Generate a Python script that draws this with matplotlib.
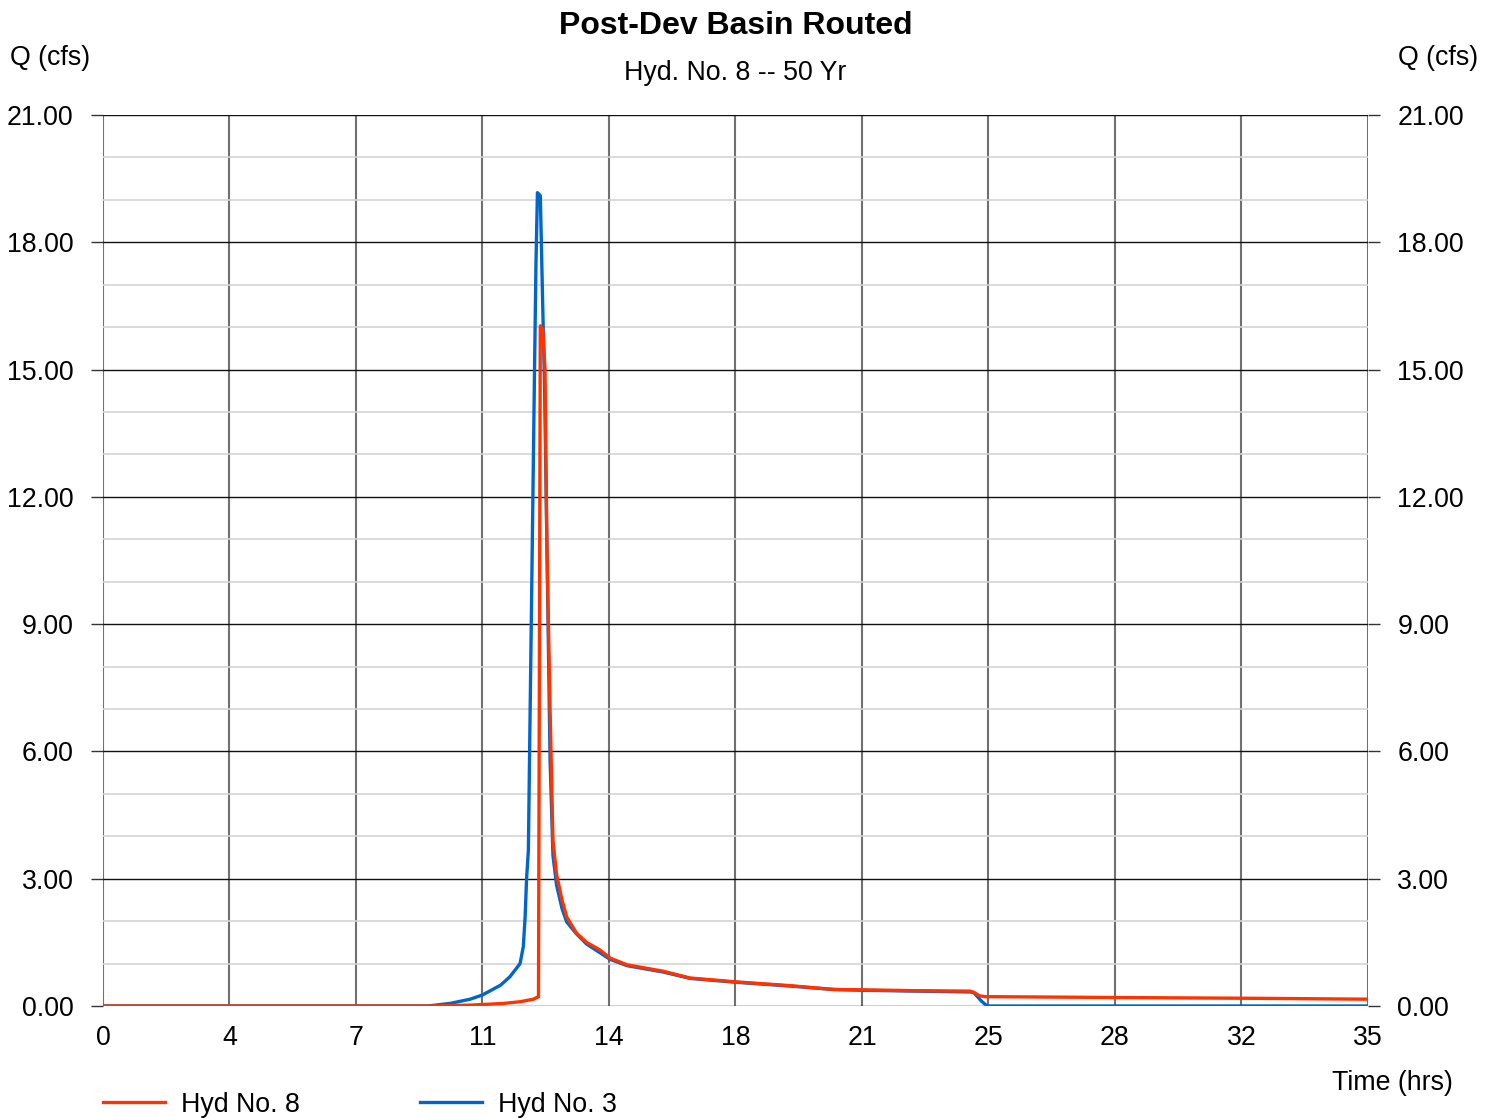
import matplotlib
matplotlib.use("Agg")
import matplotlib.pyplot as plt
from matplotlib.ticker import MultipleLocator, FixedLocator, FixedFormatter, FormatStrFormatter

plt.rcParams['font.family'] = ['Liberation Sans', 'DejaVu Sans']

# Hydrograph ordinates: time (hrs) and flow (cfs)
hyd3_time = [0.0, 9.0, 9.6, 10.16, 10.5, 11.0, 11.26, 11.54, 11.63, 11.68, 11.72,
             11.77, 11.81, 11.88, 11.94, 11.98, 12.02, 12.1, 12.18, 12.22, 12.28,
             12.37, 12.45, 12.55, 12.7, 12.83, 13.1, 13.38, 14.03, 14.5, 15.5,
             16.24, 17.49, 19.0, 20.2, 21.0, 22.5, 24.0, 24.1, 24.3, 24.46, 35.0]
hyd3_flow = [0.0, 0.0, 0.06, 0.16, 0.26, 0.49, 0.69, 1.0, 1.4, 2.1, 3.0,
             3.67, 6.4, 11.0, 15.0, 17.5, 19.17, 19.1, 16.0, 14.5, 11.0,
             5.8, 3.55, 2.85, 2.3, 1.98, 1.7, 1.46, 1.1, 0.95, 0.8,
             0.65, 0.56, 0.47, 0.39, 0.37, 0.35, 0.33, 0.31, 0.12, 0.0, 0.0]

hyd8_time = [0.0, 9.0, 10.16, 11.08, 11.54, 11.91, 12.05, 12.1, 12.17, 12.23,
             12.28, 12.37, 12.45, 12.55, 12.7, 12.83, 13.1, 13.38, 13.75, 14.03,
             14.5, 15.5, 16.24, 17.49, 19.0, 20.2, 21.0, 22.5, 24.0, 24.1, 24.25,
             24.4, 28.0, 32.0, 35.0]
hyd8_flow = [0.0, 0.0, 0.02, 0.06, 0.1, 0.16, 0.22, 16.03, 15.95, 15.0,
             11.0, 7.0, 3.9, 3.1, 2.5, 2.1, 1.72, 1.5, 1.32, 1.13,
             0.97, 0.82, 0.66, 0.57, 0.48, 0.39, 0.38, 0.36, 0.35, 0.32, 0.24,
             0.22, 0.2, 0.18, 0.16]

x_ticks = [0, 3.5, 7, 10.5, 14, 17.5, 21, 24.5, 28, 31.5, 35]
x_tick_labels = ['0', '4', '7', '11', '14', '18', '21', '25', '28', '32', '35']

RED = '#FF3300'
BLUE = '#0066CC'
FS = 19.3

fig = plt.figure(figsize=(14.97, 11.18), dpi=100)
ax = fig.add_axes([0.0688, 0.1002, 0.8450, 0.7969])

ax.set_xlim(0, 35)
ax.set_ylim(0, 21)

# grid: light minor rows, dark major rows, gray columns
ax.yaxis.set_major_locator(MultipleLocator(3))
ax.yaxis.set_minor_locator(MultipleLocator(1))
ax.yaxis.set_major_formatter(FormatStrFormatter('%.2f'))
ax.xaxis.set_major_locator(FixedLocator(x_ticks))
ax.xaxis.set_major_formatter(FixedFormatter(x_tick_labels))

ax.grid(which='minor', axis='y', color='#d4d4d4', lw=1.2)
ax.grid(which='major', axis='y', color='#111111', lw=1.0)
ax.grid(which='major', axis='x', color='#707070', lw=1.5)
ax.yaxis.get_gridlines()[0].set_color('#808080')
ax.set_axisbelow(True)

for s in ax.spines.values():
    s.set_visible(False)

ax.tick_params(axis='y', which='major', direction='out', length=8.6, width=1.0,
               color='#333333', left=True, right=True, labelleft=True,
               labelright=True, labelsize=FS, pad=12.5)
ax.tick_params(axis='y', which='minor', length=0)
ax.tick_params(axis='x', length=0, labelsize=FS, pad=14)

l3, = ax.plot(hyd3_time, hyd3_flow, color=BLUE, lw=2.4, zorder=3, label='Hyd No. 3')
l8, = ax.plot(hyd8_time, hyd8_flow, color=RED, lw=2.4, zorder=4, label='Hyd No. 8')

fig.text(0.4913, 0.977, 'Post-Dev Basin Routed', ha='center', va='center',
         fontsize=23, fontweight='bold')
fig.text(0.4913, 0.935, 'Hyd. No. 8 -- 50 Yr', ha='center', va='center', fontsize=FS)
fig.text(0.0067, 0.9485, 'Q (cfs)', ha='left', va='center', fontsize=FS)
fig.text(0.9339, 0.9485, 'Q (cfs)', ha='left', va='center', fontsize=FS)
fig.text(0.9706, 0.031, 'Time (hrs)', ha='right', va='center', fontsize=FS)

fig.legend(handles=[l8, l3], loc='center left', bbox_to_anchor=(0.0688, 0.0118),
           ncol=2, frameon=False, fontsize=FS, handlelength=2.3,
           handletextpad=0.6, columnspacing=4.5, borderaxespad=0, borderpad=0)

fig.savefig('out.png', dpi=100)
